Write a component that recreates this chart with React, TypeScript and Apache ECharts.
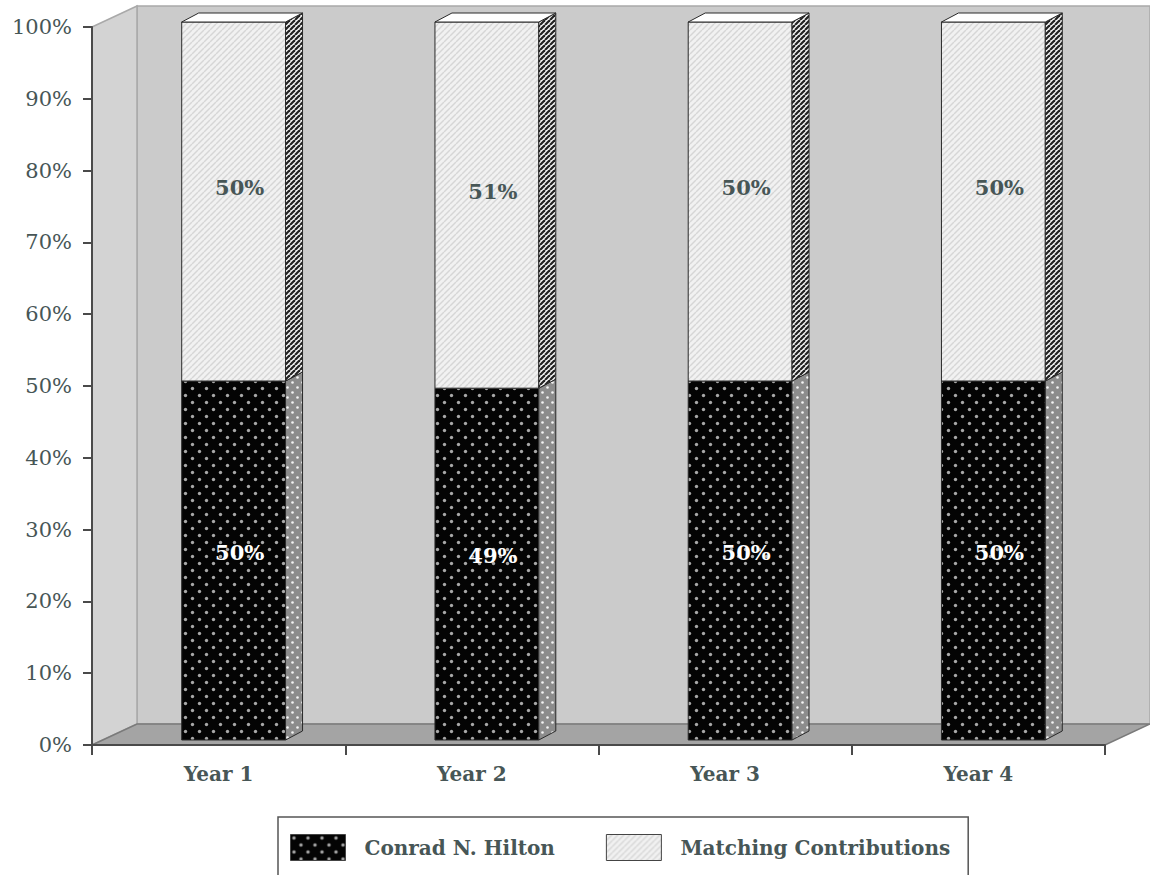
import React, { useEffect, useRef } from 'react';
import * as echarts from 'echarts';

const categories = ['Year 1', 'Year 2', 'Year 3', 'Year 4'];
const hiltonShare = [50, 49, 50, 50];
const matchingShare = [50, 51, 50, 50];
const seriesNames = ['Conrad N. Hilton', 'Matching Contributions'];

const FONT = '"DejaVu Serif", "Liberation Serif", serif';
const TEXT = '#475656';
const DX = 15; // front face offset from axis plane
const DY = 5;
const BX = 17; // bar depth
const BY = 9;
const WX = 45; // wall depth
const WY = 21;

function makeTile(w: number, h: number, draw: (ctx: CanvasRenderingContext2D) => void) {
  const c = document.createElement('canvas');
  c.width = w;
  c.height = h;
  const ctx = c.getContext('2d') as CanvasRenderingContext2D;
  draw(ctx);
  return c;
}

function dots(bg: string, dot: string, size: number, r: number) {
  return makeTile(size, size, (ctx) => {
    ctx.fillStyle = bg;
    ctx.fillRect(0, 0, size, size);
    ctx.fillStyle = dot;
    [[size / 4, size / 4], [(3 * size) / 4, (3 * size) / 4]].forEach(([x, y]) => {
      ctx.beginPath();
      ctx.arc(x, y, r, 0, Math.PI * 2);
      ctx.fill();
    });
  });
}

function stripes(bg: string, line: string, s: number, lw: number) {
  return makeTile(s, s, (ctx) => {
    ctx.fillStyle = bg;
    ctx.fillRect(0, 0, s, s);
    ctx.strokeStyle = line;
    ctx.lineWidth = lw;
    for (let k = -1; k <= 1; k++) {
      ctx.beginPath();
      ctx.moveTo(k * s, s);
      ctx.lineTo(k * s + s, 0);
      ctx.stroke();
    }
  });
}

export default function App() {
  const ref = useRef<HTMLDivElement>(null);

  useEffect(() => {
    document.body.style.margin = '0';
    if (!ref.current) return;
    const chart = echarts.init(ref.current, undefined, { renderer: 'svg' });

    const hiltonFront = { image: dots('#040404', '#a8a8a8', 14, 1.7), repeat: 'repeat' };
    const hiltonSide = { image: dots('#8c8c8c', '#f4f4f4', 10, 1.3), repeat: 'repeat' };
    const matchFront = { image: stripes('#f1f1f1', '#d6d6d6', 6, 1.4), repeat: 'repeat' };
    const matchSide = { image: stripes('#f4f4f4', '#222222', 5, 2.2), repeat: 'repeat' };

    const boxRenderer = (frontFill: any, sideFill: any, withTop: boolean, labelColor: string, labelShift: number) =>
      (params: any, api: any) => {
        const i = api.value(0);
        const v = api.value(1);
        const base = api.value(2);
        const pB = api.coord([i, base]);
        const pT = api.coord([i, base + v]);
        const band = api.size([1, 0])[0];
        const w = band * 0.41;
        const xl = pB[0] - w / 2 + DX;
        const xr = xl + w;
        const yb = pB[1] - DY;
        const yt = pT[1] - DY;
        const stroke = '#2a2a2a';
        const children: any[] = [
          {
            type: 'rect',
            shape: { x: xl, y: yt, width: w, height: yb - yt },
            style: { fill: frontFill, stroke, lineWidth: 1 },
          },
          {
            type: 'polygon',
            shape: { points: [[xr, yb], [xr + BX, yb - BY], [xr + BX, yt - BY], [xr, yt]] },
            style: { fill: sideFill, stroke, lineWidth: 1 },
          },
        ];
        if (withTop) {
          children.push({
            type: 'polygon',
            shape: { points: [[xl, yt], [xl + BX, yt - BY], [xr + BX, yt - BY], [xr, yt]] },
            style: { fill: '#ffffff', stroke, lineWidth: 1 },
          });
        }
        children.push({
          type: 'text',
          style: {
            text: v + '%',
            x: xl + w / 2 + 6,
            y: (yb + yt) / 2 - labelShift,
            fill: labelColor,
            font: `bold 21px ${FONT}`,
            align: 'center',
            verticalAlign: 'middle',
          },
        });
        return { type: 'group', children };
      };

    const wallRenderer = (params: any) => {
      const cs = params.coordSys;
      const x0 = cs.x;
      const y0 = cs.y;
      const x1 = cs.x + cs.width;
      const y1 = cs.y + cs.height;
      return {
        type: 'group',
        children: [
          {
            type: 'rect',
            shape: { x: x0 + WX, y: y0 - WY, width: x1 - x0, height: y1 - y0 },
            style: { fill: '#cbcbcb', stroke: '#a9a9a9', lineWidth: 1.5 },
          },
          {
            type: 'polygon',
            shape: { points: [[x0, y0], [x0 + WX, y0 - WY], [x0 + WX, y1 - WY], [x0, y1]] },
            style: { fill: '#d3d3d3', stroke: '#a9a9a9', lineWidth: 1.5 },
          },
          {
            type: 'polygon',
            shape: { points: [[x0, y1], [x0 + WX, y1 - WY], [x1 + WX, y1 - WY], [x1, y1]] },
            style: { fill: '#a4a4a4', stroke: '#7a7a7a', lineWidth: 1.5 },
          },
        ],
      };
    };

    chart.setOption({
      animation: false,
      grid: { left: 92, top: 27, width: 1013, height: 718, containLabel: false },
      xAxis: {
        type: 'category',
        data: categories,
        z: 5,
        axisLine: { show: true, lineStyle: { color: '#4a4a4a', width: 2 } },
        axisTick: { show: true, length: 10, lineStyle: { color: '#4a4a4a', width: 2 } },
        axisLabel: { margin: 19, fontFamily: FONT, fontSize: 20, fontWeight: 'bold', color: TEXT },
        splitLine: { show: false },
      },
      yAxis: {
        type: 'value',
        min: 0,
        max: 100,
        interval: 10,
        z: 5,
        axisLine: { show: true, lineStyle: { color: '#4a4a4a', width: 2 } },
        axisTick: { show: true, length: 9, lineStyle: { color: '#4a4a4a', width: 2 } },
        axisLabel: { margin: 20, fontFamily: FONT, fontSize: 21, color: TEXT, formatter: '{value}%' },
        splitLine: { show: false },
      },
      legend: {
        data: seriesNames,
        left: 278,
        top: 817,
        orient: 'horizontal',
        icon: 'rect',
        itemWidth: 55,
        itemHeight: 26,
        itemGap: 51,
        padding: [17, 18, 16, 12],
        borderColor: '#555555',
        borderWidth: 1.5,
        itemStyle: { borderColor: '#444', borderWidth: 1 },
        textStyle: { fontFamily: FONT, fontSize: 20, color: TEXT, fontWeight: 'bold', padding: [0, 0, 0, 14] },
      },
      series: [
        {
          type: 'custom',
          name: 'walls',
          z: 0,
          silent: true,
          clip: false,
          renderItem: wallRenderer,
          data: [[0, 0]],
        },
        {
          type: 'custom',
          name: seriesNames[0],
          z: 2,
          clip: false,
          itemStyle: { color: hiltonFront },
          renderItem: boxRenderer(hiltonFront, hiltonSide, false, '#ffffff', 8.5),
          encode: { x: 0, y: [1, 2] },
          data: hiltonShare.map((v, i) => [i, v, 0]),
        },
        {
          type: 'custom',
          name: seriesNames[1],
          z: 3,
          clip: false,
          itemStyle: { color: matchFront },
          renderItem: boxRenderer(matchFront, matchSide, true, TEXT, 14),
          encode: { x: 0, y: [1, 2] },
          data: matchingShare.map((v, i) => [i, v, hiltonShare[i]]),
        },
      ],
    });

    return () => chart.dispose();
  }, []);

  return <div ref={ref} style={{ width: 1150, height: 875 }} />;
}
